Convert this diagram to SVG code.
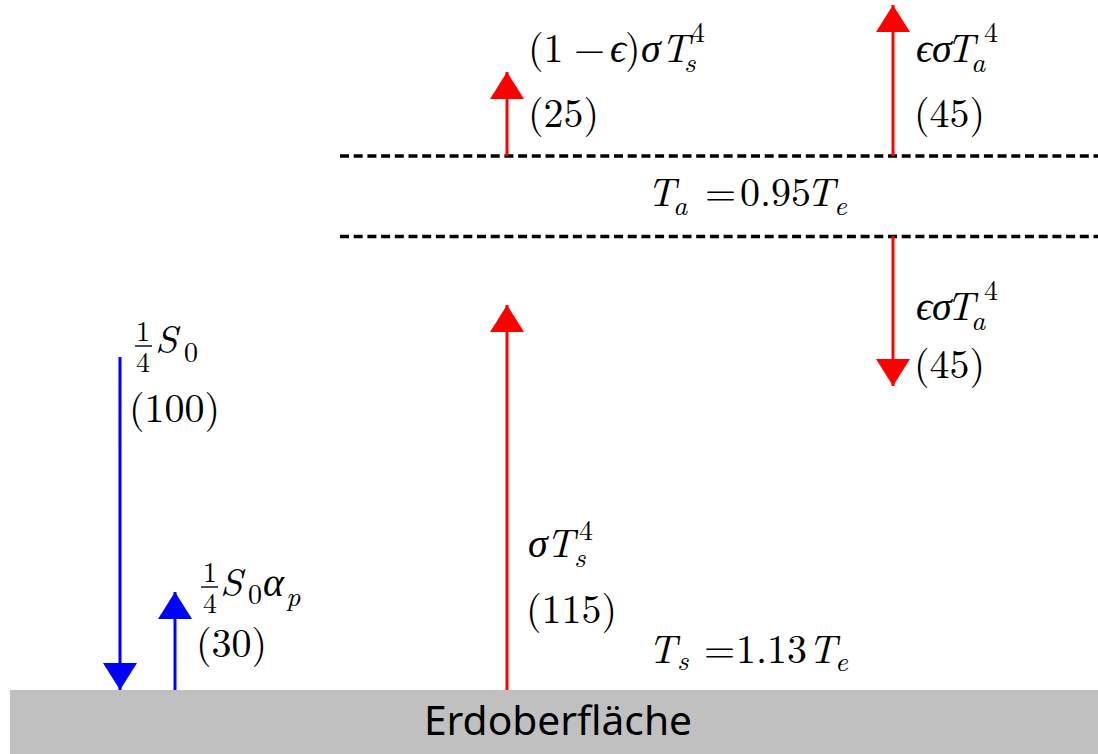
<svg xmlns="http://www.w3.org/2000/svg" width="1098" height="754" viewBox="0 0 1098 754">
<style>
.tx{font-family:'Latin Modern Roman','Liberation Serif',serif;fill:#000}
.m{font-size:40px}
.i{font-style:italic}
.s{font-size:28px}
.g{font-family:'Liberation Serif','DejaVu Serif',serif;font-style:italic}
.dash{stroke:#000;stroke-width:3.5;stroke-dasharray:9 4.7;fill:none}
.red{stroke:#ff0000;stroke-width:3;fill:none}
.blue{stroke:#0000ff;stroke-width:3;fill:none}
.bar{stroke:#000;stroke-width:1.4}
</style>
<defs>
<marker id="ahr" markerUnits="userSpaceOnUse" markerWidth="28" markerHeight="34" refX="27" refY="17" orient="auto" viewBox="0 0 28 34"><path d="M0,0 L27,17 L0,34 z" fill="#ff0000"/></marker>
<marker id="ahb" markerUnits="userSpaceOnUse" markerWidth="28" markerHeight="34" refX="27" refY="17" orient="auto" viewBox="0 0 28 34"><path d="M0,0 L27,17 L0,34 z" fill="#0000ff"/></marker>
</defs>
<rect width="1098" height="754" fill="#fff"/>
<g id="surface">
<rect x="10" y="690" width="1088" height="64" fill="#c0c0c0"/>
<text x="558" y="735" text-anchor="middle" font-family="Noto Sans, Open Sans, sans-serif" font-size="40" textLength="268" lengthAdjust="spacingAndGlyphs" fill="#000">Erdoberfläche</text>
</g>
<g id="atmosphere" class="tx">
<line class="dash" x1="340" y1="156" x2="1098" y2="156"/>
<line class="dash" x1="340" y1="236.5" x2="1098" y2="236.5"/>
<text class="m i" x="647" y="206">T</text>
<text class="s i" x="673" y="215">a</text>
<text class="m" y="206"><tspan x="705">=</tspan><tspan x="740">0.95</tspan></text>
<text class="m i" x="806" y="206">T</text>
<text class="s i" x="834" y="215">e</text>
</g>
<g id="connectors">
<line class="red" x1="507" y1="156" x2="507" y2="72" marker-end="url(#ahr)"/>
<line class="red" x1="893" y1="156" x2="893" y2="5" marker-end="url(#ahr)"/>
<line class="red" x1="893" y1="236" x2="893" y2="386" marker-end="url(#ahr)"/>
<line class="red" x1="507" y1="690" x2="507" y2="305" marker-end="url(#ahr)"/>
<line class="blue" x1="120" y1="357" x2="120" y2="690" marker-end="url(#ahb)"/>
<line class="blue" x1="175" y1="690" x2="175" y2="592" marker-end="url(#ahb)"/>
</g>
<g id="label-up-surface-escape" class="tx">
<text class="m" y="62"><tspan x="528">(1</tspan><tspan x="574">−</tspan><tspan x="610" class="g">ϵ</tspan><tspan x="625">)</tspan><tspan x="641" class="g">σ</tspan><tspan x="661" class="i">T</tspan></text>
<text class="s i" x="684" y="72">s</text>
<text class="s" x="691" y="42">4</text>
<text class="m" x="528" y="127">(25)</text>
</g>
<g id="label-up-atm" class="tx">
<text class="m" y="62"><tspan x="916" class="g">ϵ</tspan><tspan x="932" class="g">σ</tspan><tspan x="946" class="i">T</tspan></text>
<text class="s i" x="971" y="72">a</text>
<text class="s" x="984" y="42">4</text>
<text class="m" x="914" y="127">(45)</text>
</g>
<g id="label-down-atm" class="tx">
<text class="m" y="320"><tspan x="916" class="g">ϵ</tspan><tspan x="932" class="g">σ</tspan><tspan x="946" class="i">T</tspan></text>
<text class="s i" x="971" y="330">a</text>
<text class="s" x="984" y="300">4</text>
<text class="m" x="914" y="378">(45)</text>
</g>
<g id="label-surface-up" class="tx">
<text class="m" y="557"><tspan x="528" class="g">σ</tspan><tspan x="546" class="i">T</tspan></text>
<text class="s i" x="574" y="567">s</text>
<text class="s" x="579" y="540">4</text>
<text class="m" x="526" y="623">(115)</text>
<text class="m i" x="648" y="663">T</text>
<text class="s i" x="677" y="670">s</text>
<text class="m" y="663"><tspan x="704">=</tspan><tspan x="736">1.13</tspan></text>
<text class="m i" x="808" y="663">T</text>
<text class="s i" x="835" y="671">e</text>
</g>
<g id="label-solar-in" class="tx">
<text class="s" x="136" y="341">1</text>
<line class="bar" x1="135" y1="346" x2="152" y2="346"/>
<text class="s" x="136" y="372">4</text>
<text class="m i" x="155" y="353">S</text>
<text class="s" x="184" y="362">0</text>
<text class="m" x="129" y="422">(100)</text>
</g>
<g id="label-solar-reflected" class="tx">
<text class="s" x="203" y="582">1</text>
<line class="bar" x1="201" y1="587" x2="218" y2="587"/>
<text class="s" x="203" y="613">4</text>
<text class="m i" x="220" y="596">S</text>
<text class="s" x="248" y="604">0</text>
<text class="m" x="263" y="596"><tspan class="g">α</tspan></text>
<text class="s i" x="286" y="606">p</text>
<text class="m" x="196" y="657">(30)</text>
</g>
</svg>
